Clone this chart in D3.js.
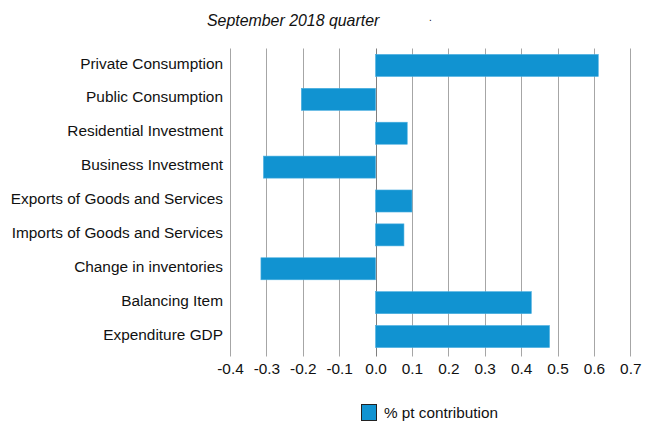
<!DOCTYPE html>
<html>
<head>
<meta charset="utf-8">
<script src="https://cdn.jsdelivr.net/npm/d3@7"></script>
<style>
  body { margin: 0; background: #fff; }
  svg text { font-family: "Liberation Sans", Arial, sans-serif; fill: #111; }
</style>
</head>
<body>
<svg id="chart" width="656" height="427"></svg>
<script>
// Contributions to GDP growth, September 2018 quarter
const categories = [
  'Private Consumption',
  'Public Consumption',
  'Residential Investment',
  'Business Investment',
  'Exports of Goods and Services',
  'Imports of Goods and Services',
  'Change in inventories',
  'Balancing Item',
  'Expenditure GDP'
];
const contributions = [0.612, -0.204, 0.087, -0.308, 0.100, 0.078, -0.315, 0.428, 0.478];
const tickValues = [-0.4, -0.3, -0.2, -0.1, 0.0, 0.1, 0.2, 0.3, 0.4, 0.5, 0.6, 0.7];
const seriesName = '% pt contribution';
const title = 'September 2018 quarter';

const data = categories.map((c, i) => ({ key: c, value: contributions[i] }));

const margin = { top: 48.5, right: 25.7, bottom: 73.5, left: 230 };
const width = 656 - margin.left - margin.right;
const height = 427 - margin.top - margin.bottom;

const svg = d3.select('#chart');
const chart = svg.append('g')
    .attr('transform', `translate(${margin.left},${margin.top})`);

const xScale = d3.scaleLinear()
    .domain([-0.4, 0.7])
    .range([0, width]);

const yScale = d3.scaleBand()
    .domain(categories)
    .range([0, height])
    .paddingInner(0.35)
    .paddingOuter(0.175);

// vertical gridlines
chart.selectAll('.grid')
    .data(tickValues)
  .join('line')
    .attr('class', 'grid')
    .attr('x1', d => Math.round(xScale(d)) + 0.5)
    .attr('x2', d => Math.round(xScale(d)) + 0.5)
    .attr('y1', 0)
    .attr('y2', height + 3)
    .attr('stroke', d => d === 0 ? '#7f7f7f' : '#a6a6a6')
    .attr('stroke-width', 1);

// bars
chart.selectAll('.bar')
    .data(data)
  .join('rect')
    .attr('class', 'bar')
    .attr('x', d => xScale(Math.min(0, d.value)))
    .attr('width', d => Math.abs(xScale(d.value) - xScale(0)))
    .attr('y', d => yScale(d.key))
    .attr('height', yScale.bandwidth())
    .attr('fill', '#1193d1')
    .attr('stroke', '#4aaee0')
    .attr('stroke-width', 0.6);

// x axis labels (plain hyphen for negatives, as in the source)
const xAxis = d3.axisBottom(xScale)
    .tickValues(tickValues)
    .tickFormat(d => d.toFixed(1).replace('−', '-'))
    .tickSize(0)
    .tickPadding(10);

const xAxisG = chart.append('g')
    .attr('transform', `translate(0,${height})`)
    .call(xAxis);
xAxisG.select('.domain').remove();
xAxisG.selectAll('text')
    .style('font-size', '15.4px')
    .attr('fill', '#111');

// y axis labels
const yAxis = d3.axisLeft(yScale).tickSize(0).tickPadding(7);
const yAxisG = chart.append('g').call(yAxis);
yAxisG.select('.domain').remove();
yAxisG.selectAll('text')
    .style('font-size', '15.4px')
    .attr('dy', '0.2em')
    .attr('fill', '#111');

// title
svg.append('text')
    .attr('x', 207)
    .attr('y', 26)
    .style('font-size', '15.9px')
    .style('font-style', 'italic')
    .text(title);

svg.append('text')
    .attr('x', 429)
    .attr('y', 21)
    .style('font-size', '10px')
    .text('.');

// legend
const legend = svg.append('g').attr('transform', 'translate(361,404)');
legend.append('rect')
    .attr('x', 0.5)
    .attr('y', 0.5)
    .attr('width', 15)
    .attr('height', 16)
    .attr('fill', '#1193d1')
    .attr('stroke', '#222')
    .attr('stroke-width', 1);
legend.append('text')
    .attr('x', 23)
    .attr('y', 14)
    .style('font-size', '15.3px')
    .text(seriesName);
</script>
</body>
</html>
